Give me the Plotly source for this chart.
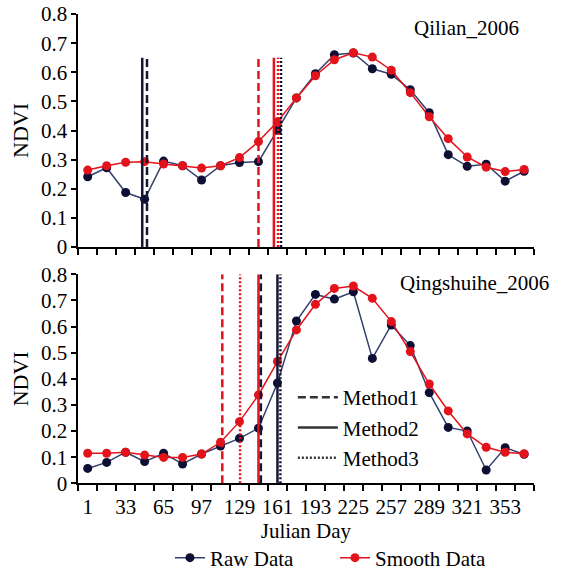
import plotly.graph_objects as go

# 16-day composite dates (Julian day)
days = [1, 17, 33, 49, 65, 81, 97, 113, 129, 145, 161, 177,
        193, 209, 225, 241, 257, 273, 289, 305, 321, 337, 353, 369]
tick_labels = [1, 33, 65, 97, 129, 161, 193, 225, 257, 289, 321, 353]

# NDVI series
qilian_raw = [0.241, 0.272, 0.187, 0.164, 0.295, 0.279, 0.230, 0.279, 0.290, 0.293, 0.401, 0.512,
              0.595, 0.660, 0.666, 0.612, 0.593, 0.540, 0.461, 0.317, 0.277, 0.284, 0.226, 0.260]
qilian_smooth = [0.264, 0.279, 0.291, 0.293, 0.285, 0.279, 0.271, 0.279, 0.307, 0.362, 0.430, 0.512,
                 0.588, 0.643, 0.667, 0.652, 0.607, 0.530, 0.447, 0.372, 0.309, 0.274, 0.259, 0.266]
qingshuihe_raw = [0.057, 0.080, 0.119, 0.083, 0.115, 0.074, 0.112, 0.143, 0.172, 0.211, 0.384, 0.621,
                  0.723, 0.705, 0.733, 0.478, 0.606, 0.527, 0.347, 0.214, 0.200, 0.051, 0.136, 0.111]
qingshuihe_smooth = [0.115, 0.115, 0.119, 0.108, 0.099, 0.099, 0.112, 0.157, 0.236, 0.338, 0.466, 0.587,
                     0.685, 0.746, 0.755, 0.708, 0.619, 0.504, 0.380, 0.277, 0.189, 0.138, 0.119, 0.113]

# Start-of-season estimates (Julian day) per method
methods = ["Method1", "Method2", "Method3"]
qilian_raw_sos = [51, 47, 164]
qilian_smooth_sos = [145, 158, 161.5]
qingshuihe_raw_sos = [147, 161, 163.5]
qingshuihe_smooth_sos = [114.5, 145, 129.5]
qilian_line_top = 0.65
qingshuihe_line_top = 0.8

FONT = "Times New Roman, Liberation Serif, serif"
RAW_LINE = "#34406e"
RAW_MARK = "#0c0f33"
SMOOTH = "#e3121b"
SOS_RED = "#e0141c"
SOS_DARK = "#151633"
DASHES = {"Method1": "8px,4px", "Method2": "solid", "Method3": "2px,2px"}

fig = go.Figure()

panels = [
    ("x", "y", qilian_raw, qilian_smooth, qilian_raw_sos, qilian_smooth_sos, qilian_line_top, True),
    ("x2", "y2", qingshuihe_raw, qingshuihe_smooth, qingshuihe_raw_sos, qingshuihe_smooth_sos,
     qingshuihe_line_top, False),
]

shapes = []
for xa, ya, raw, smooth, raw_sos, smooth_sos, top, legend in panels:
    for m, d in zip(methods, smooth_sos):
        shapes.append(dict(type="line", xref=xa, yref=ya, x0=d, x1=d, y0=0, y1=top,
                           line=dict(color=SOS_RED, width=2.5, dash=DASHES[m])))
    for m, d in zip(methods, raw_sos):
        shapes.append(dict(type="line", xref=xa, yref=ya, x0=d, x1=d, y0=0, y1=top,
                           line=dict(color=SOS_DARK, width=2.5, dash=DASHES[m])))
    fig.add_trace(go.Scatter(x=days, y=raw, xaxis=xa, yaxis=ya, mode="lines+markers",
                             name="Raw Data", showlegend=legend, legend="legend",
                             line=dict(color=RAW_LINE, width=1.5),
                             marker=dict(color=RAW_MARK, size=9)))
    fig.add_trace(go.Scatter(x=days, y=smooth, xaxis=xa, yaxis=ya, mode="lines+markers",
                             name="Smooth Data", showlegend=legend, legend="legend",
                             line=dict(color=SMOOTH, width=1.5),
                             marker=dict(color=SMOOTH, size=9)))

# Legend-only entries describing the line styles of the methods
for m in methods:
    fig.add_trace(go.Scatter(x=[None], y=[None], xaxis="x2", yaxis="y2", mode="lines",
                             name=m, legend="legend2",
                             line=dict(color="#333333", width=2.5, dash=DASHES[m])))

xdom = [0.1394, 0.9512]
xcommon = dict(range=[-7, 377], showline=True, linecolor="black", linewidth=1.5,
               showgrid=False, zeroline=False, tickmode="array", tickvals=tick_labels,
               ticks="", tickangle=0, ticklabelstandoff=4,
               tickfont=dict(family=FONT, size=21, color="black"),
               minor=dict(tick0=-7, dtick=16, ticks="outside", ticklen=6,
                          tickwidth=1.5, tickcolor="black", showgrid=False))
ycommon = dict(range=[0, 0.8], dtick=0.1, tick0=0, showline=True, linecolor="black",
               linewidth=1.5, showgrid=False, zeroline=False, ticks="outside",
               ticklen=5, tickwidth=1.5, tickcolor="black",
               tickfont=dict(family=FONT, size=21, color="black"),
               title=dict(text="NDVI", font=dict(family=FONT, size=22, color="black"),
                          standoff=6))

fig.update_layout(
    width=561, height=570,
    margin=dict(l=0, r=0, t=0, b=0, autoexpand=False),
    paper_bgcolor="white", plot_bgcolor="white",
    xaxis=dict(domain=xdom, anchor="y", showticklabels=False, **xcommon),
    yaxis=dict(domain=[0.5667, 0.9754], anchor="x", **ycommon),
    xaxis2=dict(domain=xdom, anchor="y2",
                title=dict(text="Julian Day", font=dict(family=FONT, size=21, color="black"),
                           standoff=5),
                **xcommon),
    yaxis2=dict(domain=[0.1521, 0.5188], anchor="x2", **ycommon),
    shapes=shapes,
    legend=dict(orientation="h", x=0.303, xanchor="left", y=0.021, yanchor="middle",
                entrywidth=120, entrywidthmode="pixels",
                font=dict(family=FONT, size=21, color="black"), bgcolor="rgba(0,0,0,0)"),
    legend2=dict(orientation="v", x=0.522, xanchor="left", y=0.3385, yanchor="top",
                 itemwidth=40, font=dict(family=FONT, size=21, color="black"),
                 bgcolor="rgba(0,0,0,0)"),
    annotations=[
        dict(text="Qilian_2006", xref="paper", yref="paper", x=0.8307, y=0.9509,
             xanchor="center", yanchor="middle", showarrow=False,
             font=dict(family=FONT, size=21, color="black")),
        dict(text="Qingshuihe_2006", xref="paper", yref="paper", x=0.846, y=0.5035,
             xanchor="center", yanchor="middle", showarrow=False,
             font=dict(family=FONT, size=21, color="black")),
    ],
)

fig.write_html("out.html")
